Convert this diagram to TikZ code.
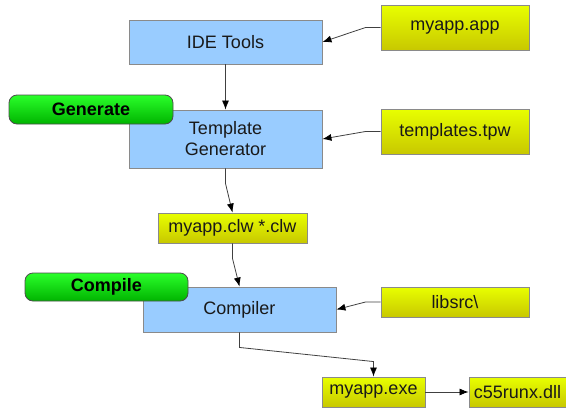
\documentclass[tikz,border=0pt]{standalone}
\usepackage{fontspec}
\setmainfont{Liberation Sans}
\usetikzlibrary{arrows.meta}
\usetikzlibrary{positioning}

\definecolor{toolblue}{HTML}{99CCFF}
\definecolor{fileyellowtop}{HTML}{E8FF00}
\definecolor{fileyellowbot}{HTML}{C8C800}
\definecolor{stepgreentop}{HTML}{2AFF2A}
\definecolor{stepgreenbot}{HTML}{00B400}
\definecolor{edgegray}{HTML}{8A8A8A}
\definecolor{linegray}{HTML}{404040}

\begin{document}
\begin{tikzpicture} [
          x=1pt, y=-1pt,
          every node/.style = {font=\fontsize{18}{21}\selectfont, inner sep=0pt, text=black!90},
          tool/.style = {draw=edgegray, line width=0.9pt, fill=toolblue, minimum width=193pt, align=center},
          file/.style = {draw=edgegray, line width=0.9pt, top color=fileyellowtop, bottom color=fileyellowbot, minimum height=30pt},
          phase/.style = {draw=black!70, line width=0.8pt, rounded corners=8pt, top color=stepgreentop, bottom color=stepgreenbot,
                          minimum height=29pt, font=\fontsize{18}{21}\selectfont\bfseries, text=black},
          flow/.style = {draw=linegray, line width=0.8pt, -{Latex[length=9pt,width=7pt,black]}}
          ]
          \useasboundingbox (0,0) rectangle (566,410);

          \node[tool, minimum height=44pt] (ide) at (225.5,42) {IDE Tools};
          \node[file, minimum width=148pt, minimum height=45pt] (app) at (455,27.5) {myapp.app};
          \node[tool, minimum height=58pt] (tmplgen) at (225.5,139) {Template\\Generator};
          \node[file, minimum width=148pt, minimum height=45pt] (tpw) at (455,131.5) {templates.tpw};
          \node[phase, minimum width=164pt] (generate) at (91,109.5) {Generate};
          \node[file, minimum width=149pt] (clw) at (232.5,228) {myapp.clw *.clw};
          \node[tool, minimum height=45pt] (compiler) at (239.5,309.5) {Compiler};
          \node[file, minimum width=148pt] (libsrc) at (455,302) {libsrc\textbackslash};
          \node[phase, minimum width=163pt, minimum height=28pt] (compile) at (106.5,287) {Compile};
          \node[file, minimum width=103pt] (exe) at (373.5,392) {myapp.exe};
          \node[file, minimum width=97pt] (dll) at (517.5,392) {c55runx.dll};

          \draw[flow] (app.west) -- ++(-15,0) -- (ide.east);
          \draw[flow] (ide.south) -- (tmplgen.north);
          \draw[flow] (tpw.west) -- ++(-15,0) -- (tmplgen.east);
          \draw[flow] (tmplgen.south) -- ++(0,15) -- (clw.north);
          \draw[flow] (clw.south) -- ++(0,15) -- (compiler.north);
          \draw[flow] (libsrc.west) -- ++(-15,0) -- (compiler.east);
          \draw[flow] (compiler.south) -- ++(0,15) -- ([yshift=15pt]exe.north) -- (exe.north);
          \draw[flow] (exe.east) -- (dll.west);
        \end{tikzpicture}
\end{document}
